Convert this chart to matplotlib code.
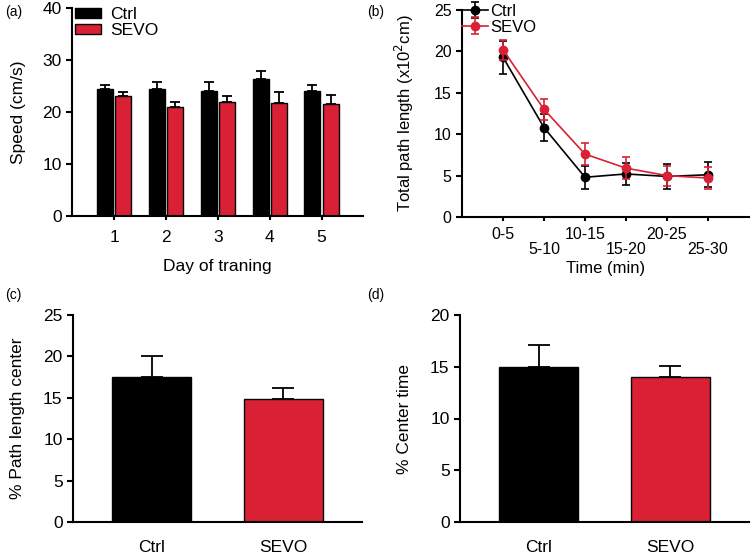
import matplotlib
matplotlib.use("Agg")
import matplotlib.pyplot as plt
import numpy as np

plt.rcParams['font.family'] = ['Liberation Sans', 'DejaVu Sans']
plt.rcParams['axes.linewidth'] = 1.5

RED = '#d92035'

# (a) speed per training day
days = ['1', '2', '3', '4', '5']
speed_ctrl = [24.4, 24.4, 24.1, 26.3, 24.0]
speed_ctrl_err = [0.8, 1.3, 1.6, 1.6, 1.1]
speed_sevo = [23.0, 20.9, 22.0, 21.8, 21.6]
speed_sevo_err = [0.8, 1.1, 1.0, 2.0, 1.7]

# (b) total path length over time
bins = ['0-5', '5-10', '10-15', '15-20', '20-25', '25-30']
path_ctrl = [19.3, 10.8, 4.8, 5.2, 4.9, 5.1]
path_ctrl_err = [2.0, 1.6, 1.4, 1.3, 1.5, 1.5]
path_sevo = [20.2, 13.0, 7.6, 5.9, 5.0, 4.7]
path_sevo_err = [1.2, 1.3, 1.3, 1.3, 1.2, 1.3]

# (c) and (d)
groups = ['Ctrl', 'SEVO']
center_path = [17.5, 14.8]
center_path_err = [2.5, 1.4]
center_time = [15.0, 14.05]
center_time_err = [2.1, 1.05]

W, H = 755, 558
fig = plt.figure(figsize=(W / 100, H / 100), dpi=100)


def px_axes(l, r, t, b):
    return fig.add_axes([l / W, 1 - b / H, (r - l) / W, (b - t) / H])


def style(ax):
    ax.spines['top'].set_visible(False)
    ax.spines['right'].set_visible(False)
    ax.tick_params(direction='out', width=1.5, length=4)


# ---------- (a) ----------
ax = px_axes(72, 363, 8, 216)
style(ax)
x = np.arange(1, len(days) + 1)
bw = 0.31
ax.bar(x - bw / 2 - 0.02, speed_ctrl, bw, color='black', edgecolor='black', lw=1,
       yerr=[[0] * 5, speed_ctrl_err], capsize=3.4, error_kw=dict(lw=1.3, capthick=1.3),
       label='Ctrl')
ax.bar(x + bw / 2 + 0.02, speed_sevo, bw, color=RED, edgecolor='black', lw=1,
       yerr=[[0] * 5, speed_sevo_err], capsize=3.4, error_kw=dict(lw=1.3, capthick=1.3),
       label='SEVO')
ax.set_xlim(0.19, 5.8)
ax.set_ylim(0, 40)
ax.set_yticks([0, 10, 20, 30, 40])
ax.set_xticks(x)
ax.set_xticklabels(days)
ax.tick_params(axis='x', length=3, pad=7)
ax.tick_params(labelsize=12.5)
ax.set_ylabel('Speed (cm/s)', fontsize=12.5, labelpad=12)
ax.set_xlabel('Day of traning', fontsize=12.5, labelpad=10)
ax.legend(loc='upper left', bbox_to_anchor=(0.012, 1.005), frameon=False, fontsize=12.5,
          handlelength=1.45, handleheight=0.5, handletextpad=0.55, labelspacing=0.05,
          borderaxespad=0, borderpad=0)
fig.text(5 / W, 1 - 12 / H, '(a)', fontsize=10, va='center')

# ---------- (b) ----------
ax = px_axes(462, 749, 10, 217)
style(ax)
xb = np.arange(1, len(bins) + 1)
ax.errorbar(xb, path_ctrl, yerr=path_ctrl_err, color='black', marker='o', ms=6,
            lw=1.2, capsize=3, elinewidth=1.2, capthick=1.2, label='Ctrl', zorder=3)
ax.errorbar(xb, path_sevo, yerr=path_sevo_err, color=RED, marker='o', ms=6,
            lw=1.2, capsize=3, elinewidth=1.2, capthick=1.2, label='SEVO', zorder=4)
ax.set_xlim(0, 7)
ax.set_ylim(0, 25)
ax.set_yticks([0, 5, 10, 15, 20, 25])
ax.set_xticks(xb)
ax.set_xticklabels([b if i % 2 == 0 else '\n' + b for i, b in enumerate(bins)],
                   linespacing=1.05)
ax.tick_params(axis='x', length=3, labelsize=11.5, pad=4)
ax.tick_params(axis='y', labelsize=11.5)
ax.set_ylabel('Total path length (x10$^2$cm)', fontsize=12, labelpad=13)
ax.set_xlabel('Time (min)', fontsize=12, labelpad=3)
ax.legend(loc='upper left', bbox_to_anchor=(0.0, 1.03), frameon=False, fontsize=12,
          handlelength=1.55, handletextpad=0.15, labelspacing=0.05,
          borderaxespad=0, borderpad=0)
fig.text(367 / W, 1 - 12 / H, '(b)', fontsize=10, va='center')

# ---------- (c) ----------
ax = px_axes(73, 362, 315, 522)
style(ax)
xc = np.arange(len(groups))
ax.bar(xc, center_path, 0.6, color=['black', RED], edgecolor='black', lw=1,
       yerr=[[0, 0], center_path_err], capsize=8, error_kw=dict(lw=1.3, capthick=1.3))
ax.set_xlim(-0.6, 1.6)
ax.set_ylim(0, 25)
ax.set_yticks([0, 5, 10, 15, 20, 25])
ax.set_xticks(xc)
ax.set_xticklabels(groups)
ax.tick_params(axis='x', length=0, pad=13)
ax.tick_params(labelsize=12.5)
ax.set_ylabel('% Path length center', fontsize=12.5, labelpad=13)
fig.text(5 / W, 1 - 295 / H, '(c)', fontsize=10, va='center')

# ---------- (d) ----------
ax = px_axes(460, 749, 315, 522)
style(ax)
ax.bar(xc, center_time, 0.6, color=['black', RED], edgecolor='black', lw=1,
       yerr=[[0, 0], center_time_err], capsize=8, error_kw=dict(lw=1.3, capthick=1.3))
ax.set_xlim(-0.6, 1.6)
ax.set_ylim(0, 20)
ax.set_yticks([0, 5, 10, 15, 20])
ax.set_xticks(xc)
ax.set_xticklabels(groups)
ax.tick_params(axis='x', length=0, pad=13)
ax.tick_params(labelsize=12.5)
ax.set_ylabel('% Center time', fontsize=12.5, labelpad=13)
fig.text(367 / W, 1 - 295 / H, '(d)', fontsize=10, va='center')

fig.savefig('out.png', dpi=100)
